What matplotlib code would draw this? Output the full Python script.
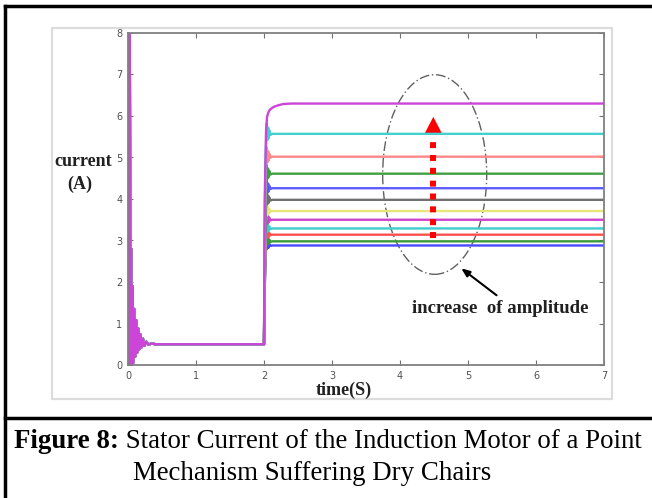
import matplotlib
matplotlib.use("Agg")
import matplotlib.pyplot as plt
from matplotlib.patches import Ellipse, Polygon, Rectangle
from matplotlib.lines import Line2D

# ---------------- data ----------------
# steady-state stator current levels after the load step (A), plotted in MATLAB colour order
levels = [2.88, 2.98, 3.14, 3.29, 3.50, 3.71, 3.98, 4.26, 4.61, 5.02, 5.57, 6.30]
colors = ['#4848ff', '#3a9a3a', '#ff5050', '#40cccc', '#cc44cc', '#e6e67a',
          '#707070', '#5c5cff', '#40a040', '#ff8888', '#44d0d0', '#cc44d8']

# start-up transient (identical for all curves)
startup_t = [0.0, 0.005, 0.015, 0.025, 0.035, 0.045, 0.055, 0.065, 0.075, 0.09,
             0.105, 0.12, 0.135, 0.15, 0.165, 0.18, 0.2, 0.22, 0.24, 0.27,
             0.3, 0.35, 0.4, 0.45, 2.0]
startup_i = [0.0, 9.0, 2.0, 8.5, 0.0, 2.8, 0.0, 1.9, 0.05, 1.35,
             0.2, 1.08, 0.3, 0.88, 0.38, 0.74, 0.43, 0.63, 0.46, 0.56,
             0.49, 0.52, 0.5, 0.5, 0.5]

# normalised response to the step at t = 2 s (fraction of the jump)
step_t = [2.0, 2.01, 2.025, 2.04, 2.05, 2.06, 2.07, 2.08, 2.095, 2.12, 7.0]
step_s = [0.0, 0.55, 0.9, 1.05, 0.97, 1.03, 0.98, 1.015, 0.995, 1.0, 1.0]
# the highest curve rises with a rounded shoulder instead
top_t = [2.0, 2.01, 2.03, 2.045, 2.06, 2.08, 2.11, 2.15, 2.2, 2.28, 2.4, 7.0]
top_s = [0.0, 0.6, 0.88, 0.945, 0.96, 0.972, 0.98, 0.987, 0.992, 0.998, 1.0, 1.0]

base_level = 0.5
x_ticks = [0, 1, 2, 3, 4, 5, 6, 7]
y_ticks = [0, 1, 2, 3, 4, 5, 6, 7, 8]

W, H = 652, 498
fig = plt.figure(figsize=(W / 100, H / 100), dpi=100)
fig.patch.set_facecolor('white')

def fx(px):
    return px / W

def fy(py):
    return 1 - py / H

# outer page lines
fig.add_artist(Line2D([fx(5), 1], [fy(6), fy(6)], color='black', lw=2.5))
fig.add_artist(Line2D([fx(5), fx(5)], [fy(6), 0], color='black', lw=2.5))
fig.add_artist(Line2D([fx(5), 1], [fy(418), fy(418)], color='black', lw=2.5))

# light grey frame of the embedded MATLAB figure
fig.add_artist(Rectangle((fx(52), fy(399)), fx(612) - fx(52), fy(28) - fy(399),
                         fill=False, edgecolor='#dcdcdc', lw=1.6))

ax = fig.add_axes([fx(128), fy(365), fx(604) - fx(128), fy(33) - fy(365)])

for L, c in zip(levels[:-1], colors[:-1]):
    t = startup_t + step_t
    i = startup_i + [base_level + (L - base_level) * s for s in step_s]
    ax.plot(t, i, color=c, lw=1.7, solid_joinstyle='round')
L, c = levels[-1], colors[-1]
t = startup_t + top_t
i = startup_i + [base_level + (L - base_level) * s for s in top_s]
ax.plot(t, i, color=c, lw=1.7, solid_joinstyle='round')

ax.set_xlim(0, 7)
ax.set_ylim(0, 8)
ax.set_xticks(x_ticks)
ax.set_yticks(y_ticks)
ax.tick_params(direction='in', length=3.5, width=0.8, colors='#707070',
               labelcolor='#505050', labelsize=7, top=True, right=True, pad=4)
for sp in ax.spines.values():
    sp.set_color('#808080')
    sp.set_linewidth(1.3)

# ellipse, red dotted arrow, black arrow and note
ax.add_patch(Ellipse((4.51, 4.59), 1.53, 4.81, fill=False, edgecolor='#606060',
                     lw=1.0, linestyle=(0, (7, 2, 1, 2))))
ax.plot([4.49, 4.49], [3.06, 5.5], color='red', lw=4.3,
        linestyle=(0, (1, 1.15)), solid_capstyle='butt', dash_capstyle='butt')
ax.add_patch(Polygon([[4.49, 5.98], [4.36, 5.57], [4.62, 5.57]], closed=True,
                     color='red', lw=0))
ax.annotate('', xy=(4.90, 2.33), xytext=(5.42, 1.68),
            arrowprops=dict(arrowstyle='-|>,head_length=0.5,head_width=0.2',
                            color='black', lw=1.5, shrinkA=0, shrinkB=0))
ax.text(5.48, 1.37, 'increase  of amplitude', ha='center', va='center',
        fontsize=13.5, fontweight='bold', family='Liberation Serif', color='#202020')

# axis labels (positioned as in the reference)
fig.text(fx(83), fy(161), 'current', ha='center', va='center', fontsize=13,
         fontweight='bold', family='Liberation Serif', color='#202020')
fig.text(fx(80), fy(184), '(A)', ha='center', va='center', fontsize=13,
         fontweight='bold', family='Liberation Serif', color='#202020')
fig.text(fx(344), fy(390), 'time(S)', ha='center', va='center', fontsize=13,
         fontweight='bold', family='Liberation Serif', color='#202020')

# caption
cap_y1 = fy(441)
t1 = fig.text(fx(14), cap_y1, 'Figure 8:', ha='left', va='center', fontsize=19.4,
              fontweight='bold', family='Liberation Serif')
fig.canvas.draw()
bb = t1.get_window_extent()
fig.text(bb.x1 / W, cap_y1, ' Stator Current of the Induction Motor of a Point',
         ha='left', va='center', fontsize=19.4, family='Liberation Serif')
fig.text(fx(133), fy(473), 'Mechanism Suffering Dry Chairs', ha='left', va='center',
         fontsize=19.4, family='Liberation Serif')

fig.savefig('out.png', dpi=100, facecolor='white')
